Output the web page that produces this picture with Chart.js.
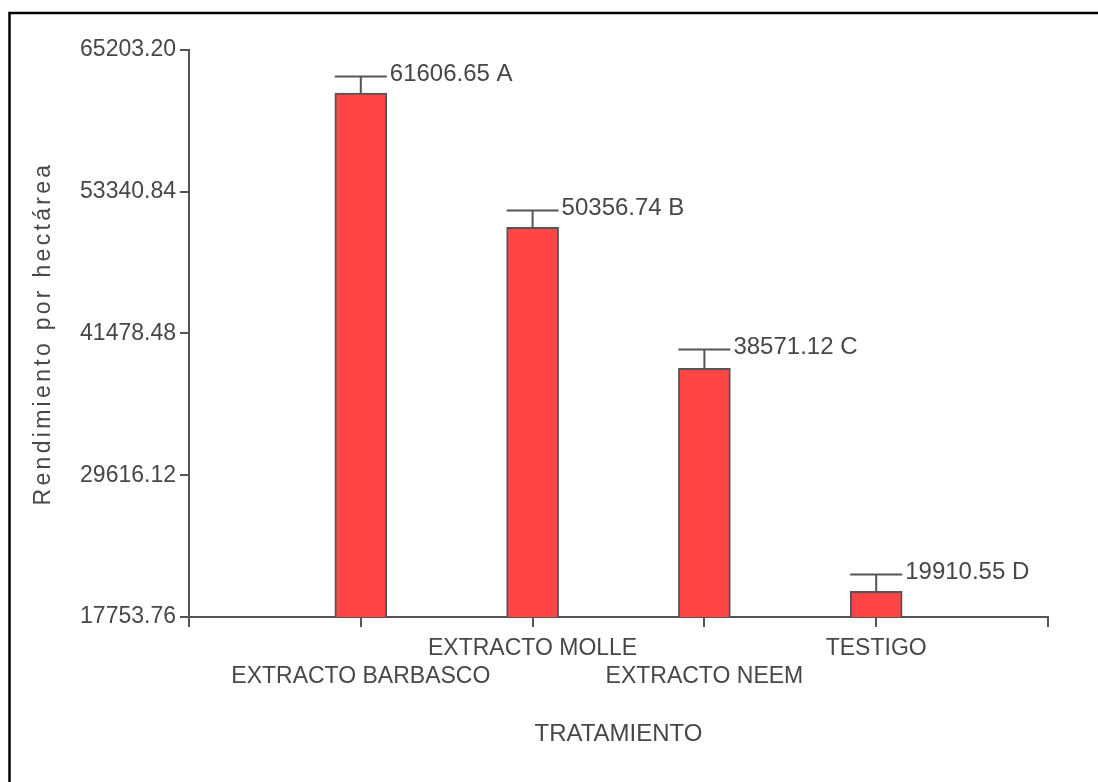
<!DOCTYPE html>
<html>
<head>
<meta charset="utf-8">
<script src="https://cdn.jsdelivr.net/npm/chart.js@4.4.0/dist/chart.umd.min.js"></script>
<style>
  body { margin: 0; background: #fff; }
  canvas { display: block; }
</style>
</head>
<body>
<canvas id="chart" width="1098" height="782"></canvas>
<script>
// Data
const categories = ["EXTRACTO BARBASCO", "EXTRACTO MOLLE", "EXTRACTO NEEM", "TESTIGO"];
const values = [61606.65, 50356.74, 38571.12, 19910.55];
const errors = [1390, 1420, 1600, 1435];
const letters = ["A", "B", "C", "D"];
const yTicks = [17753.76, 29616.12, 41478.48, 53340.84, 65203.20];

const axisColor = '#555555';
const textColor = '#474747';
const regular = '"Liberation Sans", Arial, sans-serif';

// frame line at top and left of the picture
const frame = {
    id: 'frame',
    beforeDraw(chart) {
        const ctx = chart.ctx;
        ctx.save();
        ctx.strokeStyle = '#000';
        ctx.lineWidth = 2.5;
        ctx.beginPath();
        ctx.moveTo(9.5, 782);
        ctx.lineTo(9.5, 13);
        ctx.lineTo(1098, 13);
        ctx.stroke();
        ctx.restore();
    }
};

// upward error bar + value label on each bar
const errorBars = {
    id: 'errorBars',
    afterDatasetsDraw(chart) {
        const ctx = chart.ctx;
        const y = chart.scales.y;
        const meta = chart.getDatasetMeta(0);
        ctx.save();
        ctx.strokeStyle = axisColor;
        ctx.lineWidth = 2;
        ctx.fillStyle = textColor;
        ctx.font = '24px ' + regular;
        ctx.textAlign = 'left';
        ctx.textBaseline = 'alphabetic';
        meta.data.forEach((bar, i) => {
            const top = Math.round(y.getPixelForValue(values[i] + errors[i])) + 0.5;
            const half = bar.width / 2;
            ctx.beginPath();
            ctx.moveTo(bar.x, bar.y);
            ctx.lineTo(bar.x, top);
            ctx.moveTo(bar.x - half, top);
            ctx.lineTo(bar.x + half, top);
            ctx.stroke();
            ctx.fillText(values[i].toFixed(2) + ' ' + letters[i], bar.x + half + 3, top + 4);
        });
        ctx.restore();
    }
};

// y axis title with spaced letters
const yTitle = {
    id: 'yTitle',
    afterDraw(chart) {
        const ctx = chart.ctx;
        const area = chart.chartArea;
        ctx.save();
        ctx.fillStyle = textColor;
        ctx.font = '23px ' + regular;
        ctx.letterSpacing = '3.3px';
        ctx.textAlign = 'center';
        ctx.textBaseline = 'middle';
        ctx.translate(44, (area.top + area.bottom) / 2);
        ctx.rotate(-Math.PI / 2);
        ctx.fillText('Rendimiento por hectárea', 0, 0);
        ctx.restore();
    }
};

new Chart(document.getElementById('chart'), {
    type: 'bar',
    data: {
        datasets: [{
            data: values.map((v, i) => ({ x: i, y: v })),
            backgroundColor: '#ff4545',
            borderColor: axisColor,
            borderWidth: 2,
            barThickness: 52
        }]
    },
    options: {
        responsive: false,
        animation: false,
        layout: { padding: { top: 50, right: 50, left: 0, bottom: 0 } },
        plugins: { legend: { display: false }, tooltip: { enabled: false } },
        scales: {
            x: {
                type: 'linear',
                min: -1,
                max: 4,
                offset: false,
                afterBuildTicks: (scale) => {
                    scale.ticks = [-1, 0, 1, 2, 3, 4].map(v => ({ value: v }));
                },
                afterFit: (scale) => { scale.height = 165; },
                border: { display: true, color: axisColor, width: 2 },
                grid: { offset: false, drawOnChartArea: false, drawTicks: true, tickLength: 10, color: axisColor, lineWidth: 2 },
                ticks: {
                    autoSkip: false,
                    maxRotation: 0,
                    minRotation: 0,
                    padding: 8,
                    color: textColor,
                    font: { family: regular, size: 23, lineHeight: 1.22 },
                    callback: (v) => {
                        const name = categories[v];
                        if (!name) return '';
                        return v % 2 === 0 ? ['', name] : [name];
                    }
                },
                title: {
                    display: true,
                    text: 'TRATAMIENTO',
                    color: textColor,
                    font: { family: regular, size: 24, lineHeight: 1.2 },
                    padding: { top: 0, bottom: 33 }
                }
            },
            y: {
                min: yTicks[0],
                max: yTicks[yTicks.length - 1],
                afterBuildTicks: (scale) => {
                    scale.ticks = yTicks.map(v => ({ value: v }));
                },
                afterFit: (scale) => { scale.width = 189; },
                border: { display: true, color: axisColor, width: 2 },
                grid: { drawOnChartArea: false, drawTicks: true, tickLength: 9, color: axisColor, lineWidth: 2 },
                ticks: {
                    padding: 4,
                    color: textColor,
                    font: { family: regular, size: 23 },
                    callback: (v) => Number(v).toFixed(2)
                }
            }
        }
    },
    plugins: [frame, errorBars, yTitle]
});
</script>
</body>
</html>
